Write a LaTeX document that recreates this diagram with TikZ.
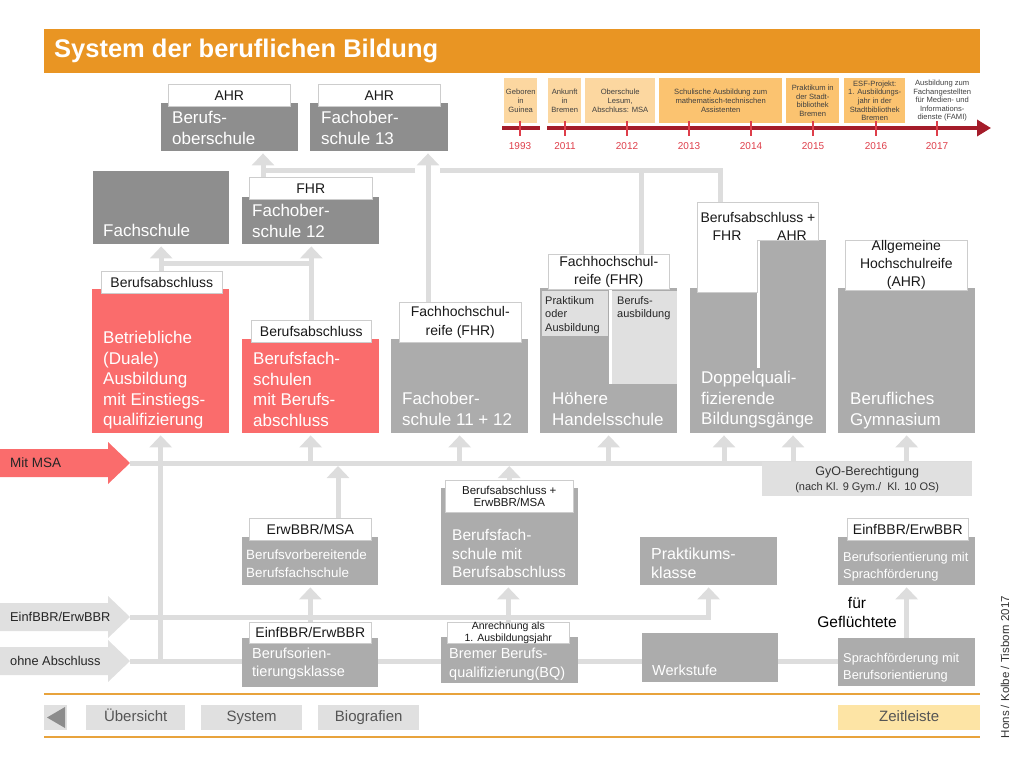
\documentclass[tikz,border=0pt]{standalone}
\usepackage{fontspec}
\setmainfont{Liberation Sans}
\usetikzlibrary{arrows.meta, backgrounds}

\definecolor{titleorange}{RGB}{233,149,35}
\definecolor{tllight}{RGB}{252,215,160}
\definecolor{tlmid}{RGB}{251,195,112}
\definecolor{tlred}{RGB}{164,28,42}
\definecolor{yearred}{RGB}{222,62,74}
\definecolor{boxdark}{RGB}{142,142,142}
\definecolor{boxmid}{RGB}{172,172,172}
\definecolor{boxlight}{RGB}{224,224,224}
\definecolor{boxred}{RGB}{250,108,108}
\definecolor{connline}{RGB}{221,221,221}
\definecolor{lblline}{RGB}{205,205,205}
\definecolor{navline}{RGB}{232,163,60}
\definecolor{navyellow}{RGB}{253,228,165}
\definecolor{navtext}{RGB}{85,85,85}

\begin{document}
\begin{tikzpicture}[x=1pt, y=-1pt]
    % Define styles
    \tikzset{
        schoolbox/.style={anchor=north west, inner sep=0pt, minimum width=137pt},
        darkbox/.style={schoolbox, fill=boxdark},
        midbox/.style={schoolbox, fill=boxmid},
        redbox/.style={schoolbox, fill=boxred},
        lightbox/.style={anchor=north west, inner sep=0pt, fill=boxlight},
        boxtext/.style={anchor=north west, inner sep=0pt, align=left, text=white, font=\fontsize{17}{20.5}\selectfont},
        innertext/.style={anchor=north west, inner sep=0pt, align=left, text=black!85, font=\fontsize{11}{13.5}\selectfont},
        degreelbl/.style={anchor=north west, inner sep=0pt, fill=white, draw=lblline, line width=0.6pt, align=center, minimum width=122pt, minimum height=22pt, text=black!90, font=\fontsize{14}{18.5}\selectfont},
        lbltext/.style={inner sep=0pt, text=black!90, font=\fontsize{14}{17}\selectfont},
        tlbox/.style={anchor=north west, inner sep=0pt, minimum height=45pt, align=center, text=black!75, font=\fontsize{7.6}{8.6}\selectfont},
        yearlbl/.style={text=yearred, font=\fontsize{10}{12}\selectfont},
        entrytext/.style={anchor=west, inner sep=0pt, text=black!85, font=\fontsize{12.8}{15}\selectfont},
        connector/.style={draw=connline, line width=5pt},
        uparrow/.style={connector, -{Triangle[length=12pt, width=22pt]}, shorten >=2pt},
        navbtn/.style={anchor=north west, inner sep=0pt, fill=boxlight, minimum height=25pt, text height=11pt, text depth=3pt, text=navtext, font=\fontsize{15}{18}\selectfont}
    }

    \useasboundingbox (0,0) rectangle (1024,768);

    % Title
    \node[fill=titleorange, minimum width=936pt, minimum height=44pt, anchor=north west, inner sep=0pt] (titlebar) at (44,29) {};
    \node[anchor=west, inner sep=0pt, text=white, font=\bfseries\fontsize{25.5}{30}\selectfont] (title) at (54,51) {System der beruflichen Bildung};

    % Timeline
    \node[tlbox, fill=tllight, minimum width=33pt] (tl93) at (504,78) {Geboren\\in\\Guinea};
    \node[tlbox, fill=tllight, minimum width=33pt] (tl11) at (548,78) {Ankunft\\in\\Bremen};
    \node[tlbox, fill=tllight, minimum width=70pt] (tl12) at (585,78) {Oberschule\\Lesum,\\Abschluss: MSA};
    \node[tlbox, fill=tlmid, minimum width=123pt] (tl13) at (659,78) {Schulische Ausbildung zum\\mathematisch-technischen\\Assistenten};
    \node[tlbox, fill=tlmid, minimum width=53pt] (tl15) at (786,78) {Praktikum in\\der Stadt-\\bibliothek\\Bremen};
    \node[tlbox, fill=tlmid, minimum width=61pt] (tl16) at (844,78) {ESF-Projekt:\\1. Ausbildungs-\\jahr in der\\Stadtbibliothek\\Bremen};
    \node[tlbox, minimum width=70pt] (tl17) at (907,78) {Ausbildung zum\\Fachangestellten\\für Medien- und\\Informations-\\dienste (FAMI)};

    \draw[tlred, line width=4pt] (502,128) -- (540,128);
    \draw[tlred, line width=4pt, -{Triangle[length=14pt, width=16pt]}] (547,128) -- (991,128);
    \foreach \x/\yr in {520/1993, 565/2011, 627/2012, 689/2013, 751/2014, 813/2015, 876/2016, 937/2017} {
        \draw[yearred, line width=1.5pt] (\x,121) -- (\x,136);
        \node[yearlbl] (y\yr) at (\x,146) {\yr};
    }

    % Upper schools
    \node[darkbox, minimum height=48pt] (bos) at (161,103) {};
    \node[darkbox, minimum width=138pt, minimum height=48pt] (fos13) at (310,103) {};
    \node[darkbox, minimum width=136pt, minimum height=73pt] (fs) at (93,171) {};
    \node[darkbox, minimum height=47pt] (fos12) at (242,197) {};

    \node[degreelbl] (boslbl) at (168,84) {AHR};
    \node[degreelbl] (fos13lbl) at (318,84) {AHR};
    \node[degreelbl, minimum width=123pt] (fos12lbl) at (249,177) {FHR};

    \node[boxtext] (bostxt) at (172,111) {Berufs-\\oberschule};
    \node[boxtext] (fos13txt) at (321,111) {Fachober-\\schule 13};
    \node[boxtext] (fstxt) at (103,224) {Fachschule};
    \node[boxtext] (fos12txt) at (252,204) {Fachober-\\schule 12};

    % Middle row
    \node[redbox, minimum height=144pt] (bet) at (92,289) {};
    \node[redbox, minimum height=94pt] (bfs) at (242,339) {};
    \node[midbox, minimum height=94pt] (fos1112) at (391,339) {};
    \node[midbox, minimum height=145pt] (hhs) at (540,288) {};
    \node[midbox, minimum width=136pt, minimum height=145pt] (dq) at (690,288) {};
    \node[midbox, minimum width=66pt, minimum height=50pt] (dqahr) at (760,240) {};
    \node[midbox, minimum height=145pt] (bg) at (838,288) {};

    % Hoehere Handelsschule, inner parts
    \node[lightbox, minimum width=66pt, minimum height=45pt] (hhsprak) at (542,291) {};
    \node[lightbox, minimum width=65pt, minimum height=93pt] (hhsberuf) at (612,291) {};
    \draw[white, line width=3pt] (610.5,289) -- (610.5,384);
    \node[innertext] (hhspraktxt) at (545,296) {Praktikum\\oder\\Ausbildung};
    \node[innertext] (hhsberuftxt) at (617,296) {Berufs-\\ausbildung};

    % Doppelqualifizierende, split column and label
    \draw[white, line width=3pt] (758.5,240) -- (758.5,368);
    \filldraw[fill=white, draw=lblline, line width=0.6pt] (697,202) -- (818,202) -- (818,240) -- (757,240) -- (757,292) -- (697,292) -- cycle;
    \coordinate (dqlbl) at (720,202);
    \node[lbltext] (dqlbltxt) at (758,217) {Berufsabschluss +};
    \node[lbltext] (dqfhr) at (727,236) {FHR};
    \node[lbltext] (dqahrtxt) at (792,236) {AHR};

    \node[degreelbl, minimum width=121pt] (betlbl) at (101,271) {Berufsabschluss};
    \node[degreelbl, minimum width=120pt] (bfslbl) at (251,320) {Berufsabschluss};
    \node[degreelbl, minimum height=40pt] (fos1112lbl) at (399,302) {Fachhochschul-\\reife (FHR)};
    \node[degreelbl, minimum width=121pt, minimum height=35pt] (hhslbl) at (548,254) {Fachhochschul-\\reife (FHR)};
    \node[degreelbl, minimum height=50pt, font=\fontsize{14}{18}\selectfont] (bglbl) at (845,240) {Allgemeine\\Hochschulreife\\(AHR)};

    \node[boxtext] (bettxt) at (103,331) {Betriebliche\\(Duale)\\Ausbildung\\mit Einstiegs-\\qualifizierung};
    \node[boxtext] (bfstxt) at (253,352) {Berufsfach-\\schulen\\mit Berufs-\\abschluss};
    \node[boxtext] (fos1112txt) at (402,392) {Fachober-\\schule 11 + 12};
    \node[boxtext] (hhstxt) at (552,392) {Höhere\\Handelsschule};
    \node[boxtext] (dqtxt) at (701,371) {Doppelquali-\\fizierende\\Bildungsgänge};
    \node[boxtext] (bgtxt) at (850,392) {Berufliches\\Gymnasium};

    % Entry arrows
    \foreach \y/\col/\nm in {463/boxred/msa, 617/boxlight/einf, 661/boxlight/ohne} {
        \fill[\col] (0,\y-14) -- (108,\y-14) -- (108,\y-21) -- (130,\y) -- (108,\y+21) -- (108,\y+14) -- (0,\y+14) -- cycle;
        \coordinate (\nm-tip) at (130,\y);
    }
    \node[entrytext, font=\fontsize{13.5}{16}\selectfont] (msatxt) at (10,463) {Mit MSA};
    \node[entrytext] (einftxt) at (10,617) {EinfBBR/ErwBBR};
    \node[entrytext] (ohnetxt) at (10,661) {ohne Abschluss};

    % GyO
    \node[lightbox, minimum width=210pt, minimum height=34pt, align=center, text=black!80] (gyo) at (762,462) {\fontsize{12.5}{15}\selectfont GyO-Berechtigung\\[3pt]\fontsize{11}{13}\selectfont (nach Kl. 9 Gym./\ \ Kl. 10 OS)};

    % Third row
    \node[midbox, minimum width=136pt, minimum height=48pt] (bvb) at (242,537) {};
    \node[midbox, minimum height=97pt] (bfsb) at (441,488) {};
    \node[midbox, minimum height=48pt] (pk) at (640,537) {};
    \node[midbox, minimum height=48pt] (bosf) at (838,537) {};

    \node[degreelbl] (bvblbl) at (249,518) {ErwBBR/MSA};
    \node[degreelbl, minimum width=128pt, minimum height=32pt, font=\fontsize{11.5}{12.5}\selectfont] (bfsblbl) at (445,480) {Berufsabschluss +\\ErwBBR/MSA};
    \node[degreelbl, minimum width=121pt] (bosflbl) at (847,518) {EinfBBR/ErwBBR};

    \node[boxtext, font=\fontsize{13.4}{18}\selectfont] (bvbtxt) at (246,550) {Berufsvorbereitende\\Berufsfachschule};
    \node[boxtext, font=\fontsize{15.5}{18.5}\selectfont] (bfsbtxt) at (452,529.5) {Berufsfach-\\schule mit\\Berufsabschluss};
    \node[boxtext, font=\fontsize{16}{19}\selectfont] (pktxt) at (651,547.5) {Praktikums-\\klasse};
    \node[boxtext, font=\fontsize{12.8}{16.5}\selectfont] (bosftxt) at (843,552.5) {Berufsorientierung mit\\Sprachförderung};

    % Fourth row
    \node[midbox, minimum width=136pt, minimum height=49pt] (bok) at (242,638) {};
    \node[midbox, minimum height=46pt] (bq) at (441,637) {};
    \node[midbox, minimum width=136pt, minimum height=49pt] (ws) at (642,633) {};
    \node[midbox, minimum height=48pt] (sfb) at (838,638) {};

    \node[degreelbl, minimum height=21pt] (boklbl) at (249,622) {EinfBBR/ErwBBR};
    \node[degreelbl, minimum height=21pt, font=\fontsize{10.5}{11.5}\selectfont] (bqlbl) at (447,622) {Anrechnung als\\1. Ausbildungsjahr};

    \node[boxtext, font=\fontsize{14.5}{18}\selectfont] (boktxt) at (252,647.5) {Berufsorien-\\tierungsklasse};
    \node[boxtext, font=\fontsize{14.5}{19}\selectfont] (bqtxt) at (449,647.5) {Bremer Berufs-\\qualifizierung(BQ)};
    \node[boxtext, font=\fontsize{14.5}{18}\selectfont] (wstxt) at (652,665) {Werkstufe};
    \node[boxtext, font=\fontsize{12.8}{16.5}\selectfont] (sfbtxt) at (843,653.5) {Sprachförderung mit\\Berufsorientierung};

    \node[anchor=north, align=center, inner sep=0pt, font=\fontsize{15.5}{19}\selectfont] (fuer) at (857,597) {für\\Geflüchtete};

    % Connectors (behind the boxes)
    \begin{scope}[on background layer]
        % to Berufsoberschule and Fachoberschule 13
        \draw[connector] (dqlbl) |- (440,170);
        \draw[connector] (641,0 |- hhslbl.north) -- (641,170);
        \draw[connector] (415,170) -- (263,170);
        \draw[uparrow] (263,0 |- fos12lbl.north) -- (263,0 |- bos.south);
        \draw[uparrow] (428,0 |- fos1112lbl.north) -- (428,0 |- fos13.south);
        % to Fachschule and Fachoberschule 12
        \draw[uparrow] (fs.south |- betlbl.north) -- (fs.south);
        \draw[connector] (fs.south |- 0,263) -- (bfslbl.north |- 0,263);
        \draw[uparrow] (bfslbl.north) -- (bfslbl.north |- fos12.south);
        % lines from the entry arrows
        \draw[connector] (msa-tip) -- (972,463);
        \draw[uparrow] (einf-tip) -| (pk.south);
        \draw[connector] (ohne-tip) -- (ohne-tip -| sfb.west);
        \draw[uparrow] (ohne-tip -| bet.south) -- (bet.south);
        % up into the middle row
        \foreach \b in {bfs, fos1112, hhs, bg}
            \draw[uparrow] (msa-tip -| \b.south) -- (\b.south);
        \foreach \x in {724, 793}
            \draw[uparrow] (msa-tip -| \x,0) -- (\x,0 |- dq.south);
        % up to the Mit MSA line
        \draw[uparrow, shorten >=3pt] (338,0 |- bvblbl.north) -- (338,0 |- msa-tip);
        \draw[uparrow, shorten >=3pt] (bfsblbl.north) -- (bfsblbl.north |- msa-tip);
        % fourth row up to the third row
        \draw[uparrow] (boklbl.north) -- (boklbl.north |- bvb.south);
        \draw[uparrow] (bqlbl.north) -- (bqlbl.north |- bfsb.south);
        \draw[uparrow] (sfb.north) -- (bosf.south);
    \end{scope}

    % Navigation
    \draw[navline, line width=2pt] (44,694) -- (980,694);
    \draw[navline, line width=2pt] (44,737) -- (980,737);
    \node[navbtn, minimum width=23pt] (back) at (44,705) {};
    \fill[black!45] (47,717.5) -- (65,707) -- (65,728) -- cycle;
    \node[navbtn, minimum width=99pt] (nav1) at (86,705) {Übersicht};
    \node[navbtn, minimum width=101pt] (nav2) at (201,705) {System};
    \node[navbtn, minimum width=101pt] (nav3) at (318,705) {Biografien};
    \node[navbtn, minimum width=142pt, fill=navyellow] (nav4) at (838,705) {Zeitleiste};

    % Credit
    \node[rotate=90, inner sep=0pt, text=black!80, font=\fontsize{11.5}{14}\selectfont] (credit) at (1005,667) {Hons / Kolbe / Tisborn 2017};
\end{tikzpicture}
\end{document}
